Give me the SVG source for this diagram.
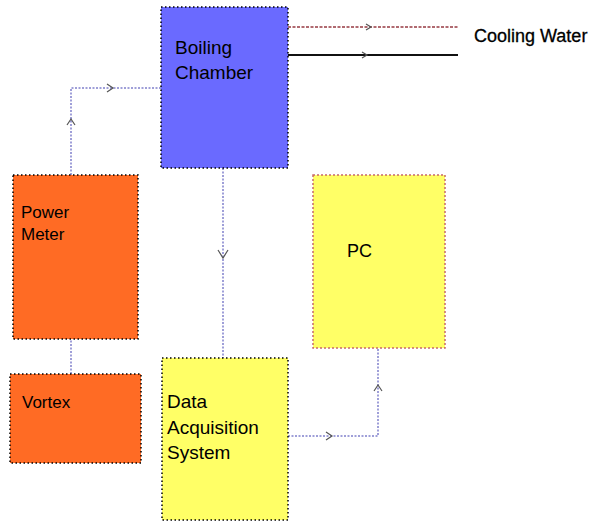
<svg xmlns="http://www.w3.org/2000/svg" width="592" height="525" viewBox="0 0 592 525">
<style>
.box{stroke:#000;stroke-width:1.5;stroke-dasharray:1.5,2.5}
.blue{fill:#6a6aff}
.orange{fill:#ff6b24}
.yellow{fill:#ffff66}
.pc{stroke:#c86a6a;stroke-width:1.5;stroke-dasharray:2,2}
.lbl{font-family:"Liberation Sans",Arial,sans-serif;fill:#000}
.conn{fill:none;stroke:#8080cc;stroke-width:1.5;stroke-dasharray:2,1.5}
.arrow{fill:none;stroke:#555;stroke-width:1.2}
</style>
<rect width="592" height="525" fill="#fff"/>
<g id="connectors">
<path class="conn" d="M71,175 L71,88 L161,88"/>
<path class="arrow" d="M67,125 L71,119 L75,125"/>
<path class="arrow" d="M107,84 L113,88 L107,92"/>
<path class="conn" d="M71,374 L71,339"/>
<path class="conn" d="M223,168 L223,358"/>
<path class="arrow" d="M218,250 L223,258 L228,250"/>
<path class="conn" d="M288,436 L378,436 L378,348"/>
<path class="arrow" d="M326,432 L332,436 L326,440"/>
<path class="arrow" d="M374,391 L378,385 L382,391"/>
<path fill="none" stroke="#b06a70" stroke-width="1.8" stroke-dasharray="3,1.5" d="M288,27 L458,27"/>
<path class="arrow" d="M366,24 L371,27 L366,30"/>
<path fill="none" stroke="#111" stroke-width="1.8" d="M288,55 L458,55"/>
<path class="arrow" d="M362,52 L367,55 L362,58"/>
</g>
<g id="boiling-chamber">
<rect class="box blue" x="161" y="7" width="127" height="161"/>
<text class="lbl" x="175" y="54" font-size="19">Boiling</text>
<text class="lbl" x="175" y="79" font-size="19">Chamber</text>
</g>
<g id="cooling-water">
<text class="lbl" x="474" y="42" font-size="18" stroke="#000" stroke-width="0.3">Cooling Water</text>
</g>
<g id="power-meter">
<rect class="box orange" x="13" y="175" width="125" height="164"/>
<text class="lbl" x="21" y="218" font-size="17">Power</text>
<text class="lbl" x="21" y="240" font-size="17">Meter</text>
</g>
<g id="vortex">
<rect class="box orange" x="10" y="374" width="131" height="89"/>
<text class="lbl" x="22" y="408" font-size="17">Vortex</text>
</g>
<g id="daq">
<rect class="box yellow" x="162" y="358" width="126" height="162"/>
<text class="lbl" x="167" y="408" font-size="19">Data</text>
<text class="lbl" x="167" y="434" font-size="19">Acquisition</text>
<text class="lbl" x="167" y="459" font-size="19">System</text>
</g>
<g id="pc">
<rect class="pc yellow" x="313" y="175" width="132" height="173"/>
<text class="lbl" x="347" y="257" font-size="18">PC</text>
</g>
</svg>
